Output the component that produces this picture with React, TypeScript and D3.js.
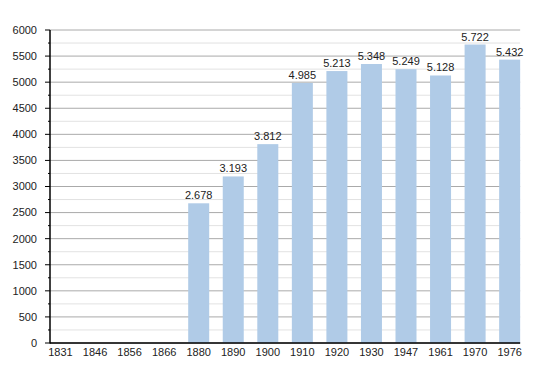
import React from "react";
import * as d3 from "d3";

const years = ["1831", "1846", "1856", "1866", "1880", "1890", "1900", "1910", "1920", "1930", "1947", "1961", "1970", "1976"];
const population: (number | null)[] = [null, null, null, null, 2678, 3193, 3812, 4985, 5213, 5348, 5249, 5128, 5722, 5432];
const majorTicks = [0, 500, 1000, 1500, 2000, 2500, 3000, 3500, 4000, 4500, 5000, 5500, 6000];
const minorTicks = [250, 750, 1250, 1750, 2250, 2750, 3250, 3750, 4250, 4750, 5250, 5750];

export default function App() {
  const W = 550, H = 373;
  const left = 50, top = 30, bottom = 343;
  const step = 34.55;
  const barW = 21;
  const right = left + 13 * step + barW;
  const x = d3.scaleBand<string>().domain(years).range([left, left + years.length * step]).padding(0);
  const y = d3.scaleLinear().domain([0, 6000]).range([bottom, top]);
  const fmt = (v: number) => d3.format(",")(v).replace(/,/g, ".");
  const font = "'Liberation Sans', Arial, sans-serif";
  return (
    <svg width={W} height={H} style={{ position: "absolute", left: 0, top: 0 }} fontFamily={font}>
      <rect width={W} height={H} fill="#fff" />
      {minorTicks.map((t) => (
        <g key={"mi" + t}>
          <line x1={left} x2={right} y1={y(t)} y2={y(t)} stroke="#e2e2e2" strokeWidth={1} />
          <line x1={left - 2} x2={left} y1={y(t)} y2={y(t)} stroke="#000" strokeWidth={1} />
        </g>
      ))}
      {majorTicks.map((t) => (
        <g key={"ma" + t}>
          <line x1={left} x2={right} y1={y(t)} y2={y(t)} stroke="#aaaaaa" strokeWidth={1} />
          <line x1={left - 5} x2={left} y1={y(t)} y2={y(t)} stroke="#000" strokeWidth={1} />
          <text x={37} y={y(t)} dy="0.35em" textAnchor="end" fontSize={11} fill="#222">{t}</text>
        </g>
      ))}
      {years.map((yr, i) => {
        const v = population[i];
        const bx = x(yr)!;
        return (
          <g key={yr}>
            {v != null && (
              <>
                <rect x={bx} y={y(v)} width={barW} height={bottom - y(v)} fill="#b0cbe7" />
                <text x={bx + barW / 2} y={y(v) - 4} textAnchor="middle" fontSize={11} fill="#222">{fmt(v)}</text>
              </>
            )}
            <text x={bx + barW / 2} y={352} dy="0.35em" textAnchor="middle" fontSize={11} fill="#222">{yr}</text>
          </g>
        );
      })}
      <line x1={left} x2={left} y1={top} y2={bottom + 0.5} stroke="#000" strokeWidth={1.5} />
      <line x1={left} x2={right} y1={bottom} y2={bottom} stroke="#000" strokeWidth={1.5} />
    </svg>
  );
}
